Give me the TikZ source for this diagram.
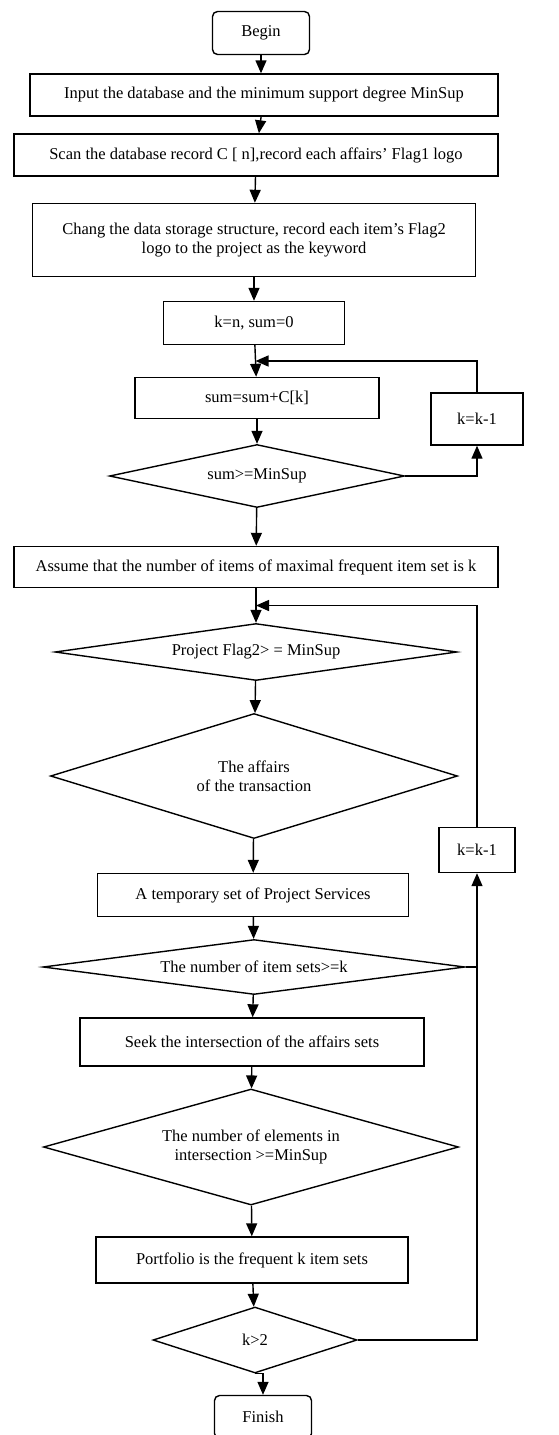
\documentclass[tikz,border=0pt]{standalone}
\usepackage{fontspec}
\setmainfont{Liberation Serif}
\usetikzlibrary{shapes.geometric, arrows.meta, positioning}

\begin{document}
\begin{tikzpicture}[x=1pt, y=-1pt, >={Triangle[length=13pt,width=11pt]}, line width=1.4pt,
  font=\fontsize{16.5}{19}\selectfont]

\tikzstyle{block} = [draw, shape=rectangle, inner sep=2pt, align=center]
\tikzstyle{term} = [block, rounded corners=5pt, minimum width=97pt, minimum height=43pt]
\tikzstyle{decision} = [draw, shape=diamond, inner sep=0pt, align=center]

\clip (0,0) rectangle (559,1435);

%Creating Blocks and Connection Nodes
\node [term] at (261,33) (begin) {Begin};
\node [block, minimum width=468pt, minimum height=42pt] at (264,95) (input) {Input the database and the minimum support degree MinSup};
\node [block, minimum width=484pt, minimum height=42pt] at (256,155) (scan) {Scan the database record C [ n],record each affairs' Flag1 logo};
\node [block, minimum width=443pt, minimum height=73pt] at (254,240) (chang) {Chang the data storage structure, record each item's Flag2\\ logo to the project as the keyword};
\node [block, minimum width=181pt, minimum height=43pt] at (254,323) (kn) {k=n, sum=0};
\node [block, minimum width=244pt, minimum height=41pt] at (257,398) (sum) {sum=sum+C[k]};
\node [decision, minimum width=295pt, minimum height=63pt, shape aspect=4.7] at (257,476) (sumtest) {sum>=MinSup};
\node [block, minimum width=92pt, minimum height=52pt] at (477,419) (dec1) {k=k-1};
\node [block, minimum width=484pt, minimum height=41pt] at (256,567) (assume) {Assume that the number of items of maximal frequent item set is k};
\node [decision, minimum width=402pt, minimum height=57pt, shape aspect=7] at (256,652) (flag) {Project Flag2> = MinSup};
\node [decision, minimum width=407pt, minimum height=125pt, shape aspect=3.3] at (254,776) (affairs) {The affairs\\ of the transaction};
\node [block, minimum width=311pt, minimum height=43pt] at (253,895) (temp) {A temporary set of Project Services};
\node [decision, minimum width=422pt, minimum height=55pt, shape aspect=7.7] at (254,967) (items) {The number of item sets>=k};
\node [block, minimum width=76pt, minimum height=45pt] at (477,850) (dec2) {k=k-1};
\node [block, minimum width=344pt, minimum height=48pt] at (252,1042) (seek) {Seek the intersection of the affairs sets};
\node [decision, minimum width=415pt, minimum height=116pt, shape aspect=3.6] at (251,1147) (elem) {The number of elements in\\ intersection >=MinSup};
\node [block, minimum width=312pt, minimum height=46pt] at (252,1260) (folio) {Portfolio is the frequent k item sets};
\node [decision, minimum width=204pt, minimum height=66pt, shape aspect=3.1] at (255,1340) (ktwo) {k>2};
\node [term] at (263,1417) (finish) {Finish};
\path (kn) -- coordinate (joinA) (sum);
\path (assume) -- coordinate (joinB) (flag);

%Conecting Blocks
\draw[->] (begin.south) -- (begin.south |- input.north);
\draw[->] (input) -- (scan);
\draw[->] (scan) -- (chang);
\draw[->] (chang) -- (kn);
\draw[->] (kn) -- (sum);
\draw[->] (sum) -- (sumtest);
\draw[->] (sumtest) -- (assume);
\draw[->] (sumtest.east) -| (dec1.south);
\draw[->] (dec1.north) |- (joinA);
\draw[->] (assume) -- (flag);
\draw[->] (flag) -- (affairs);
\draw[->] (affairs) -- (temp);
\draw[->] (temp) -- (items);
\draw[->] (items) -- (seek);
\draw[->] (seek) -- (elem);
\draw[->] (elem) -- (folio);
\draw[->] (folio) -- (ktwo);
\draw[->] (ktwo.south) -- (ktwo.south -| finish.north) -- (finish.north);
\draw[->] (ktwo.east) -| (dec2.south);
\draw (items.east) -- (items.east -| dec2.south);
\draw[->] (dec2.north) |- (joinB);
\end{tikzpicture}
\end{document}
